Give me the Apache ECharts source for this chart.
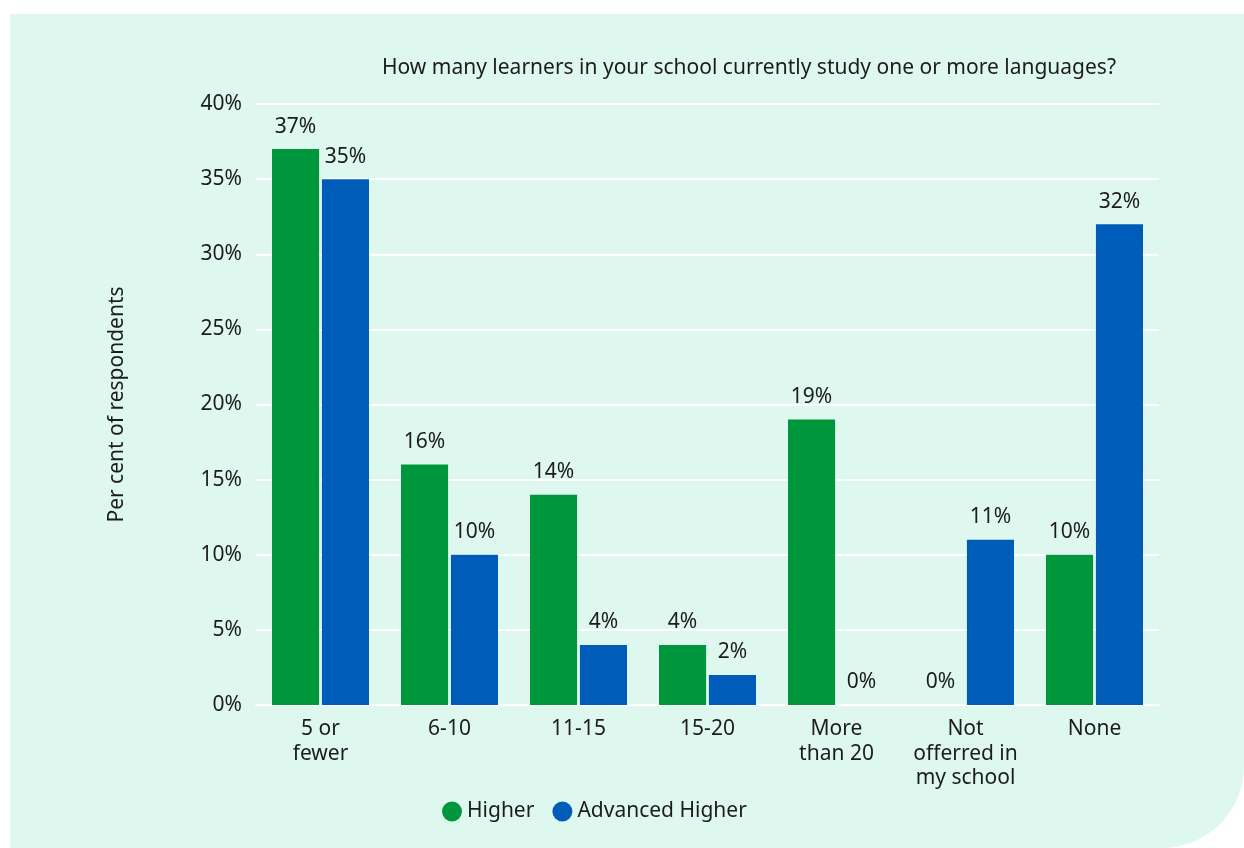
<!DOCTYPE html>
<html>
<head>
<meta charset="utf-8">
<script src="https://cdn.jsdelivr.net/npm/echarts@6/dist/echarts.min.js"></script>
<style>
  html, body { margin: 0; padding: 0; background: #ffffff; }
  #panel {
    position: absolute; left: 10px; top: 14px; width: 1234px; height: 834px;
    background: #dff8ef; border-bottom-right-radius: 82px;
  }
  #chart { position: absolute; left: 0; top: 0; width: 1244px; height: 848px; }
</style>
</head>
<body>
<div id="panel"></div>
<div id="chart"></div>
<script>
// Survey question and answer bands
const titleText = 'How many learners in your school currently study one or more languages?';
const categories = ['5 or\nfewer', '6-10', '11-15', '15-20', 'More\nthan 20', 'Not\nofferred in\nmy school', 'None'];
const higher = [37, 16, 14, 4, 19, 0, 10];
const advancedHigher = [35, 10, 4, 2, 0, 11, 32];
const yTicks = [0, 5, 10, 15, 20, 25, 30, 35, 40];

const FONT = '"Noto Sans", "Open Sans", sans-serif';
const TEXT = '#1c1c1c';
const FS = 21;

const chart = echarts.init(document.getElementById('chart'), null, { renderer: 'canvas' });

const labelStyle = {
  show: true, position: 'top', distance: 12,
  formatter: p => p.value + '%',
  fontFamily: FONT, fontSize: FS, color: TEXT
};

chart.setOption({
  backgroundColor: 'transparent',
  textStyle: { fontFamily: FONT },
  title: {
    text: titleText, left: 744, top: 53, textAlign: 'center',
    textStyle: { fontFamily: FONT, fontSize: FS, fontWeight: 'normal', color: TEXT }
  },
  legend: {
    bottom: 21, left: 437, itemGap: 18,
    icon: 'circle', itemWidth: 20, itemHeight: 20,
    textStyle: { fontFamily: FONT, fontSize: FS, color: TEXT },
    data: ['Higher', 'Advanced Higher']
  },
  grid: { left: 256, right: 85, top: 104, bottom: 143 },
  xAxis: {
    type: 'category', data: categories,
    axisLine: { show: true, lineStyle: { color: '#ffffff', width: 2 } },
    axisTick: { show: false },
    axisLabel: { fontFamily: FONT, fontSize: FS, color: TEXT, lineHeight: 24.5, margin: 12, interval: 0 }
  },
  yAxis: {
    type: 'value', min: yTicks[0], max: yTicks[yTicks.length - 1], interval: 5,
    name: 'Per cent of respondents', nameLocation: 'middle', nameGap: 128, nameRotate: 90,
    nameTextStyle: { fontFamily: FONT, fontSize: FS, color: TEXT },
    axisLabel: { formatter: v => v + '%', fontFamily: FONT, fontSize: FS, color: TEXT, margin: 14 },
    axisLine: { show: false }, axisTick: { show: false },
    splitLine: { lineStyle: { color: '#ffffff', width: 2 } }
  },
  series: [
    {
      name: 'Higher', type: 'bar', data: higher, barWidth: '36.5%', barGap: '6%',
      itemStyle: { color: '#00963b' }, label: labelStyle
    },
    {
      name: 'Advanced Higher', type: 'bar', data: advancedHigher, barWidth: '36.5%',
      itemStyle: { color: '#005cb9' }, label: labelStyle
    }
  ]
});
</script>
</body>
</html>
